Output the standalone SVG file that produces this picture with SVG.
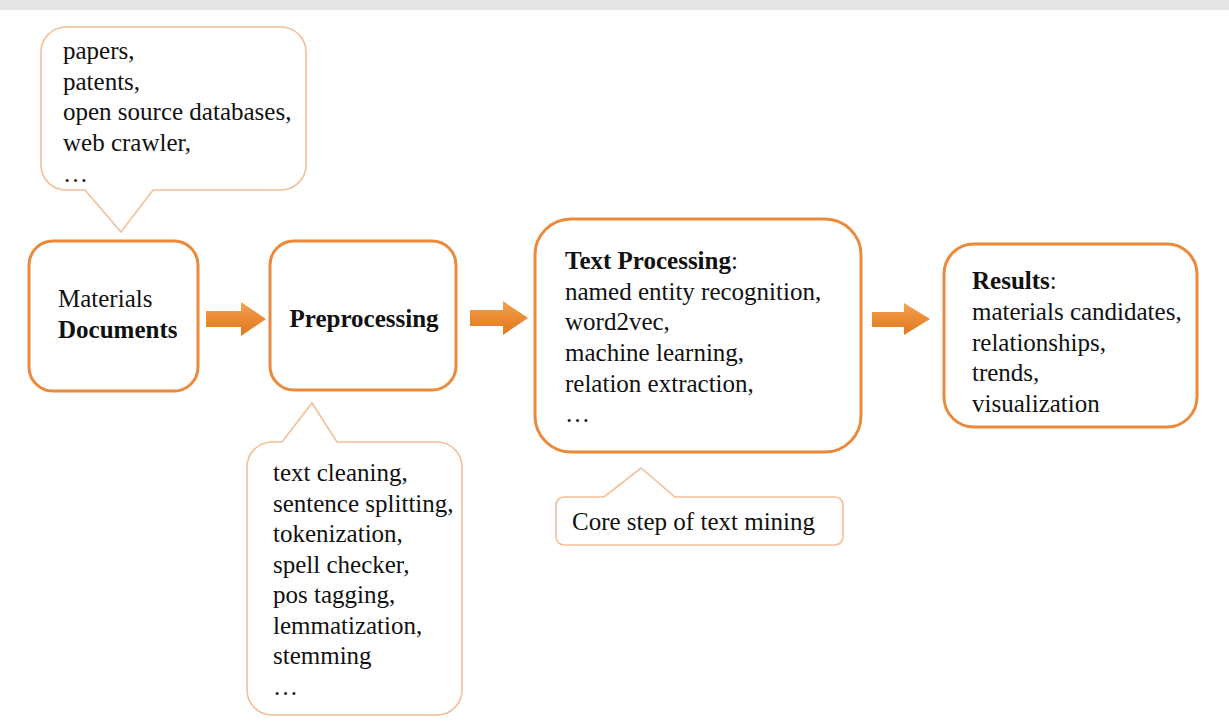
<svg xmlns="http://www.w3.org/2000/svg" width="1229" height="726" viewBox="0 0 1229 726" font-family="Liberation Serif" font-size="25">
<style>
text{fill:#111}
.b{font-weight:bold}
.node{fill:#fff;stroke:#ec8a3c;stroke-width:3}
.call{fill:#fff;stroke:#f4bf98;stroke-width:1.6;stroke-linejoin:miter}
.arr{fill:url(#ag)}
</style>
<defs>
<linearGradient id="ag" x1="0" y1="0" x2="0" y2="1">
<stop offset="0" stop-color="#f2a457"/>
<stop offset="0.5" stop-color="#ea8a32"/>
<stop offset="1" stop-color="#de7a22"/>
</linearGradient>
</defs>
<rect width="1229" height="726" fill="#fff"/>
<rect width="1229" height="10" fill="#e6e6e6"/>

<g id="callout-sources">
<path class="call" d="M66,27 H281 A25,25 0 0 1 306,52 V165 A25,25 0 0 1 281,190 H153 L121,232 L85,190 H66 A25,25 0 0 1 41,165 V52 A25,25 0 0 1 66,27 Z"/>
<text x="63" y="59" font-family="Liberation Serif">papers,</text>
<text x="63" y="90" font-family="Liberation Serif">patents,</text>
<text x="63" y="120" font-family="Liberation Serif">open source databases,</text>
<text x="63" y="151" font-family="Liberation Serif">web crawler,</text>
<text x="63" y="182" font-family="Liberation Serif">…</text>
</g>

<g id="node-documents">
<rect class="node" x="29" y="241" width="169" height="150" rx="24"/>
<text x="58" y="307" font-family="Liberation Serif">Materials</text>
<text x="58" y="338" font-family="Liberation Serif" class="b">Documents</text>
</g>

<g id="node-preprocessing">
<rect class="node" x="270" y="241" width="186" height="149" rx="24"/>
<text x="364" y="327" font-family="Liberation Serif" class="b" text-anchor="middle">Preprocessing</text>
</g>

<g id="callout-preprocessing">
<path class="call" d="M272,442 H282 L312,403 L337,442 H437 A25,25 0 0 1 462,467 V690 A25,25 0 0 1 437,715 H272 A25,25 0 0 1 247,690 V467 A25,25 0 0 1 272,442 Z"/>
<text x="273" y="481" font-family="Liberation Serif">text cleaning,</text>
<text x="273" y="512" font-family="Liberation Serif">sentence splitting,</text>
<text x="273" y="542" font-family="Liberation Serif">tokenization,</text>
<text x="273" y="573" font-family="Liberation Serif">spell checker,</text>
<text x="273" y="603" font-family="Liberation Serif">pos tagging,</text>
<text x="273" y="634" font-family="Liberation Serif">lemmatization,</text>
<text x="273" y="664" font-family="Liberation Serif">stemming</text>
<text x="273" y="695" font-family="Liberation Serif">…</text>
</g>

<g id="node-textprocessing">
<rect class="node" x="535" y="219" width="326" height="233" rx="36"/>
<text x="565" y="269" font-family="Liberation Serif"><tspan class="b">Text Processing</tspan>:</text>
<text x="565" y="300" font-family="Liberation Serif">named entity recognition,</text>
<text x="565" y="330" font-family="Liberation Serif">word2vec,</text>
<text x="565" y="361" font-family="Liberation Serif">machine learning,</text>
<text x="565" y="392" font-family="Liberation Serif">relation extraction,</text>
<text x="565" y="422" font-family="Liberation Serif">…</text>
</g>

<g id="callout-core">
<path class="call" d="M564,497 H604 L641,468 L675,497 H835 A8,8 0 0 1 843,505 V537 A8,8 0 0 1 835,545 H564 A8,8 0 0 1 556,537 V505 A8,8 0 0 1 564,497 Z"/>
<text x="572" y="530" font-family="Liberation Serif">Core step of text mining</text>
</g>

<g id="node-results">
<rect class="node" x="944" y="244" width="253" height="183" rx="30"/>
<text x="972" y="289" font-family="Liberation Serif"><tspan class="b">Results</tspan>:</text>
<text x="972" y="320" font-family="Liberation Serif">materials candidates,</text>
<text x="972" y="351" font-family="Liberation Serif">relationships,</text>
<text x="972" y="381" font-family="Liberation Serif">trends,</text>
<text x="972" y="412" font-family="Liberation Serif">visualization</text>
</g>

<g id="connectors">
<path class="arr" d="M206,311 H241 V302 L266,319 L241,336 V327 H206 Z"/>
<path class="arr" d="M470,310 H503 V301 L528,318 L503,335 V326 H470 Z"/>
<path class="arr" d="M872,312 H904 V303 L930,319 L904,335 V327 H872 Z"/>
</g>
</svg>
